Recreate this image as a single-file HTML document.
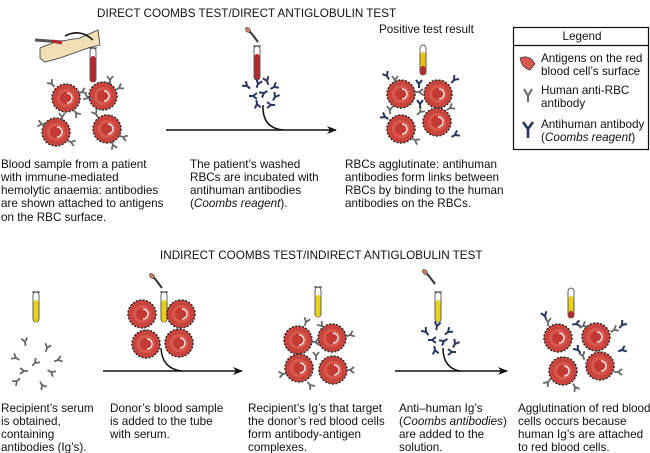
<!DOCTYPE html>
<html><head><meta charset="utf-8"><style>
html,body{margin:0;padding:0;background:#fff;}
svg{display:block;}
text{font-family:"Liberation Sans",Arial,sans-serif;font-size:11.7px;fill:#111;}
</style></head><body>
<svg width="650" height="453" viewBox="0 0 650 453" xmlns="http://www.w3.org/2000/svg">
<defs>
<g id="cell">
<circle r="14" fill="#c8443c" stroke="#222" stroke-width="1.4" stroke-dasharray="2 1.5"/>
<circle r="9" fill="#d9584e"/>
<circle r="6" fill="#c33a33"/>
<path d="M1 -5 A5 5 0 0 1 1 5" fill="none" stroke="#fff" stroke-width="1.2"/>
</g>
<g id="ab"><path d="M0 4 V0 M0 0 L-3 -4 M0 0 L3 -4" stroke="#666" stroke-width="1.8" fill="none"/></g>
<g id="abd"><path d="M0 4 V0 M0 0 L-3 -4 M0 0 L3 -4" stroke="#2a3560" stroke-width="2" fill="none"/></g>
<g id="tubeR"><rect x="-3" y="0" width="6" height="34" rx="3" fill="#fff" stroke="#333" stroke-width="0.8"/><rect x="-2.5" y="8" width="5" height="26" rx="2.5" fill="#b8272d"/><line x1="-4" y1="0" x2="4" y2="0" stroke="#333"/></g>
<g id="tubeY"><rect x="-3" y="0" width="6" height="30" rx="3" fill="#fff" stroke="#333" stroke-width="0.8"/><rect x="-2.5" y="8" width="5" height="22" rx="2.5" fill="#e8d21a"/><line x1="-4" y1="0" x2="4" y2="0" stroke="#333"/></g>
<g id="drop"><path d="M-6 -8 L-2 -4 L4 4" stroke="#333" stroke-width="2" fill="none"/><ellipse cx="-6" cy="-8" rx="3" ry="2" transform="rotate(45 -6 -8)" fill="#c88060" stroke="#333" stroke-width="0.6"/></g>
<marker id="ar" markerWidth="10" markerHeight="8" refX="9" refY="4" orient="auto" markerUnits="userSpaceOnUse"><path d="M0 0 L10 4 L0 8 L3 4 Z" fill="#111"/></marker>
</defs>

<text x="97" y="17">DIRECT COOMBS TEST/DIRECT ANTIGLOBULIN TEST</text>

<path d="M40 48 L55 42 L80 38 L98 30 L100 45 L88 48 L60 58 L45 62 L40 58 Z" fill="#f1dfb8" stroke="#333" stroke-width="0.8"/>
<path d="M35 40 L62 42" stroke="#555" stroke-width="3"/>
<path d="M52 41 L62 43" stroke="#b8272d" stroke-width="3"/>
<path d="M65 36 Q80 28 93 40" stroke="#111" stroke-width="1.5" fill="none"/>
<use href="#tubeR" x="93" y="48"/>
<use href="#cell" x="66" y="98"/><use href="#cell" x="103" y="96"/>
<use href="#cell" x="56" y="132"/><use href="#cell" x="107" y="129"/>
<use href="#ab" transform="translate(52 84) rotate(-40)"/><use href="#ab" transform="translate(82 92) rotate(70)"/>
<use href="#ab" transform="translate(88 98) rotate(-70)"/><use href="#ab" transform="translate(119 88) rotate(60)"/>
<use href="#ab" transform="translate(76 113) rotate(140)"/><use href="#ab" transform="translate(62 117) rotate(0)"/>
<use href="#ab" transform="translate(42 124) rotate(-80)"/><use href="#ab" transform="translate(71 142) rotate(110)"/>
<use href="#ab" transform="translate(96 114) rotate(-30)"/><use href="#ab" transform="translate(123 137) rotate(110)"/>
<use href="#ab" transform="translate(113 145) rotate(160)"/><use href="#ab" transform="translate(110 80) rotate(0)"/>
<text x="1" y="168">Blood sample from a patient</text>
<text x="1" y="181">with immune-mediated</text>
<text x="1" y="194">hemolytic anaemia: antibodies</text>
<text x="1" y="207">are shown attached to antigens</text>
<text x="1" y="221">on the RBC surface.</text>

<use href="#drop" x="254" y="38"/>
<use href="#tubeR" x="257" y="46"/>
<use href="#abd" transform="translate(247 86) rotate(-50)"/><use href="#abd" transform="translate(258 84) rotate(20)"/>
<use href="#abd" transform="translate(267 81) rotate(-20)"/><use href="#abd" transform="translate(274 87) rotate(60)"/>
<use href="#abd" transform="translate(253 96) rotate(90)"/><use href="#abd" transform="translate(264 93) rotate(-120)"/>
<use href="#abd" transform="translate(275 97) rotate(30)"/><use href="#abd" transform="translate(257 104) rotate(170)"/>
<use href="#abd" transform="translate(271 105) rotate(-90)"/>
<path d="M263 105 Q262 128 283 130" stroke="#111" stroke-width="1.5" fill="none"/>
<line x1="166" y1="130" x2="336" y2="130" stroke="#111" stroke-width="1.5" marker-end="url(#ar)"/>
<text x="190" y="168">The patient’s washed</text>
<text x="190" y="181">RBCs are incubated with</text>
<text x="190" y="194">antihuman antibodies</text>
<text x="190" y="207">(<tspan font-style="italic">Coombs reagent</tspan>).</text>

<text x="379" y="33">Positive test result</text>
<rect x="420" y="45" width="6" height="30" rx="3" fill="#fff" stroke="#333" stroke-width="0.8"/>
<rect x="420.5" y="52" width="5" height="23" rx="2.5" fill="#e8c21a"/><rect x="420.5" y="66" width="5" height="9" rx="2.5" fill="#b8272d"/>
<use href="#cell" x="401" y="94"/><use href="#cell" x="438" y="94"/>
<use href="#cell" x="401" y="129"/><use href="#cell" x="437" y="122"/>
<use href="#ab" transform="translate(419 92) rotate(90)"/><use href="#abd" transform="translate(419 84) rotate(0)"/>
<use href="#ab" transform="translate(420 112) rotate(45)"/><use href="#abd" transform="translate(420 104)"/>
<use href="#ab" transform="translate(390 110) rotate(0)"/><use href="#abd" transform="translate(385 117) rotate(-60)"/>
<use href="#abd" transform="translate(387 76) rotate(-30)"/><use href="#ab" transform="translate(395 80)"/>
<use href="#abd" transform="translate(455 135) rotate(60)"/><use href="#ab" transform="translate(450 108) rotate(60)"/>
<use href="#ab" transform="translate(415 140) rotate(120)"/><use href="#abd" transform="translate(454 80) rotate(40)"/>
<text x="345" y="168">RBCs agglutinate: antihuman</text>
<text x="345" y="181">antibodies form links between</text>
<text x="345" y="194">RBCs by binding to the human</text>
<text x="345" y="207">antibodies on the RBCs.</text>

<rect x="513.5" y="27.5" width="135" height="122" fill="#fff" stroke="#111" stroke-width="1.2"/>
<line x1="513.5" y1="45.5" x2="648.5" y2="45.5" stroke="#111" stroke-width="1.2"/>
<text x="582" y="40" text-anchor="middle">Legend</text>
<path d="M520 58 Q530 54 535 64 L530 70 Q522 68 520 58 Z" fill="#d9584e" stroke="#333" stroke-width="0.7"/>
<text x="541" y="62">Antigens on the red</text>
<text x="541" y="75">blood cell’s surface</text>
<path d="M528 102 V96 L524 89 M528 96 L532 89" stroke="#666" stroke-width="2" fill="none"/>
<text x="541" y="94">Human anti-RBC</text>
<text x="541" y="107">antibody</text>
<path d="M528 138 V129 L523 122 M528 129 L533 122" stroke="#2a3560" stroke-width="2.6" fill="none"/>
<text x="541" y="128">Antihuman antibody</text>
<text x="541" y="141">(<tspan font-style="italic">Coombs reagent</tspan>)</text>

<text x="160" y="259">INDIRECT COOMBS TEST/INDIRECT ANTIGLOBULIN TEST</text>

<use href="#tubeY" x="36" y="292"/>
<use href="#ab" transform="translate(25 342) rotate(-10)"/><use href="#ab" transform="translate(47 348) rotate(20)"/>
<use href="#ab" transform="translate(16 358) rotate(-60)"/><use href="#ab" transform="translate(35 363) rotate(45)"/>
<use href="#ab" transform="translate(58 360) rotate(70)"/><use href="#ab" transform="translate(24 371) rotate(-90)"/>
<use href="#ab" transform="translate(51 372) rotate(120)"/><use href="#ab" transform="translate(17 381) rotate(-130)"/>
<use href="#ab" transform="translate(42 385) rotate(150)"/>
<text x="1" y="412">Recipient’s serum</text>
<text x="1" y="425">is obtained,</text>
<text x="1" y="438">containing</text>
<text x="1" y="451">antibodies (Ig’s).</text>

<use href="#drop" x="158" y="284"/>
<use href="#tubeY" x="164" y="292"/>
<use href="#cell" x="142" y="314"/><use href="#cell" x="181" y="314"/>
<use href="#cell" x="146" y="344"/><use href="#cell" x="179" y="343"/>
<path d="M161 348 Q162 369 182 371" stroke="#111" stroke-width="1.5" fill="none"/>
<line x1="103" y1="371" x2="242" y2="371" stroke="#111" stroke-width="1.5" marker-end="url(#ar)"/>
<text x="110" y="412">Donor’s blood sample</text>
<text x="110" y="425">is added to the tube</text>
<text x="110" y="438">with serum.</text>

<use href="#tubeY" x="318" y="287"/>
<use href="#cell" x="298" y="340"/><use href="#cell" x="332" y="338"/>
<use href="#cell" x="299" y="368"/><use href="#cell" x="333" y="370"/>
<use href="#ab" transform="translate(306 322) rotate(20)"/><use href="#ab" transform="translate(322 326) rotate(-40)"/>
<use href="#ab" transform="translate(315 342) rotate(90)"/><use href="#ab" transform="translate(350 335) rotate(70)"/>
<use href="#ab" transform="translate(316 356) rotate(0)"/><use href="#ab" transform="translate(283 374) rotate(-100)"/>
<use href="#ab" transform="translate(310 385) rotate(140)"/><use href="#ab" transform="translate(350 370) rotate(90)"/>
<text x="248" y="412">Recipient’s Ig’s that target</text>
<text x="248" y="425">the donor’s red blood cells</text>
<text x="248" y="438">form antibody-antigen</text>
<text x="248" y="451">complexes.</text>

<use href="#drop" x="431" y="280"/>
<use href="#tubeY" x="438" y="292"/>
<use href="#abd" transform="translate(426 332) rotate(-40)"/><use href="#abd" transform="translate(437 326) rotate(10)"/>
<use href="#abd" transform="translate(448 332) rotate(50)"/><use href="#abd" transform="translate(432 340) rotate(90)"/>
<use href="#abd" transform="translate(444 341) rotate(-120)"/><use href="#abd" transform="translate(455 344) rotate(30)"/>
<use href="#abd" transform="translate(435 350) rotate(170)"/><use href="#abd" transform="translate(452 352) rotate(-90)"/>
<path d="M443 348 Q443 368 460 371" stroke="#111" stroke-width="1.5" fill="none"/>
<line x1="395" y1="371" x2="507" y2="371" stroke="#111" stroke-width="1.5" marker-end="url(#ar)"/>
<text x="399" y="412">Anti–human Ig’s</text>
<text x="399" y="425">(<tspan font-style="italic">Coombs antibodies</tspan>)</text>
<text x="399" y="438">are added to the</text>
<text x="399" y="451">solution.</text>

<rect x="568" y="288" width="6" height="30" rx="3" fill="#fff" stroke="#333" stroke-width="0.8"/>
<rect x="568.5" y="296" width="5" height="22" rx="2.5" fill="#e8d21a"/><rect x="568.5" y="311" width="5" height="7" rx="2.5" fill="#b8272d"/>
<use href="#cell" x="558" y="338"/><use href="#cell" x="596" y="337"/>
<use href="#cell" x="563" y="371"/><use href="#cell" x="600" y="366"/>
<use href="#abd" transform="translate(545 316) rotate(-20)"/><use href="#ab" transform="translate(548 322)"/>
<use href="#abd" transform="translate(576 324) rotate(80)"/><use href="#ab" transform="translate(583 326) rotate(60)"/>
<use href="#abd" transform="translate(622 325) rotate(40)"/><use href="#ab" transform="translate(614 330) rotate(60)"/>
<use href="#abd" transform="translate(578 350) rotate(-40)"/><use href="#ab" transform="translate(583 356) rotate(-20)"/>
<use href="#ab" transform="translate(548 382) rotate(-140)"/><use href="#ab" transform="translate(575 387) rotate(150)"/>
<use href="#ab" transform="translate(618 372) rotate(90)"/><use href="#abd" transform="translate(622 350) rotate(70)"/>
<text x="518" y="412">Agglutination of red blood</text>
<text x="518" y="425">cells occurs because</text>
<text x="518" y="438">human Ig’s are attached</text>
<text x="518" y="451">to red blood cells.</text>
</svg>
</body></html>
